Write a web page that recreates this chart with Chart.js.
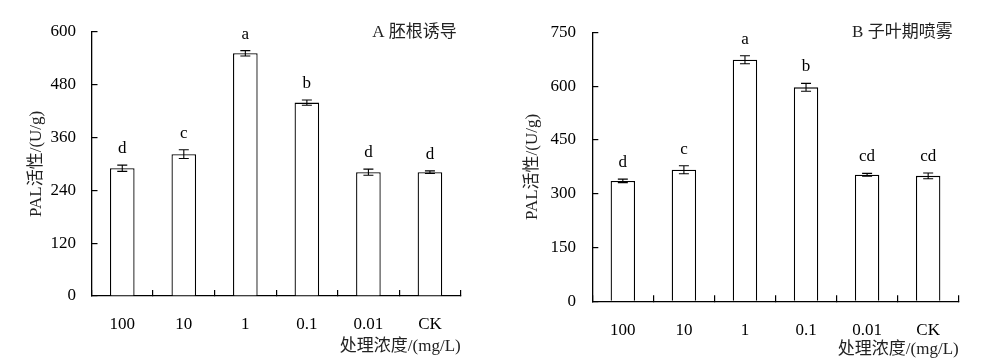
<!DOCTYPE html>
<html><head><meta charset="utf-8">
<script src="https://cdn.jsdelivr.net/npm/chart.js@4/dist/chart.umd.min.js"></script>
<style>
html,body{margin:0;padding:0;background:#fff;}
body{width:1008px;height:364px;overflow:hidden;position:relative;}
.p{position:absolute;top:0;height:364px;}
#wa{left:0;width:500px;}
#wb{left:500px;width:508px;}
</style></head><body>
<div class="p" id="wa"><canvas id="ca"></canvas></div>
<div class="p" id="wb"><canvas id="cb"></canvas></div>
<script>
const categories = ['100', '10', '1', '0.1', '0.01', 'CK'];
const valuesA = [290, 322, 551, 439, 281, 281];
const errorsA = [7, 10, 6, 6, 7, 3];
const lettersA = ['d', 'c', 'a', 'b', 'd', 'd'];
const valuesB = [336, 367, 674, 597, 353, 350];
const errorsB = [5, 11, 11, 11, 4, 8];
const lettersB = ['d', 'c', 'a', 'b', 'cd', 'cd'];
const ticksA = [0, 120, 240, 360, 480, 600];
const ticksB = [0, 150, 300, 450, 600, 750];
const panelTitleA = 'A 胚根诱导';
const panelTitleB = 'B 子叶期喷雾';
const yTitle = 'PAL活性/(U/g)';
const xTitle = '处理浓度/(mg/L)';

const FONT = "'Liberation Serif','Noto Sans CJK SC',serif";

const decor = {
  id: 'decor',
  afterDatasetsDraw(chart, args, opts) {
    const ctx = chart.ctx;
    const xs = chart.scales.x, ys = chart.scales.y;
    const ds = chart.data.datasets[0];
    ctx.save();
    ctx.strokeStyle = '#000';
    ctx.lineWidth = 1.1;
    ctx.fillStyle = '#000';
    ctx.font = '17px ' + FONT;
    ctx.textAlign = 'center';
    ctx.textBaseline = 'alphabetic';
    ds.data.forEach((v, i) => {
      const e = opts.errors[i];
      const x = xs.getPixelForValue(i);
      const yt = ys.getPixelForValue(v + e);
      const yb = ys.getPixelForValue(v - e);
      ctx.beginPath();
      ctx.moveTo(x, yt); ctx.lineTo(x, yb);
      ctx.moveTo(x - 5, yt); ctx.lineTo(x + 5, yt);
      ctx.moveTo(x - 5, yb); ctx.lineTo(x + 5, yb);
      ctx.stroke();
      ctx.fillText(opts.letters[i], x, yt - 12);
    });
    ctx.textAlign = 'right';
    ctx.textBaseline = 'middle';
    ctx.fillStyle = '#222';
    ctx.fillText(opts.title, chart.chartArea.right - opts.titleInset, 33);
    ctx.restore();
  }
};

function makeChart(id, values, errors, letters, ticks, title, geo) {
  const last = ticks[ticks.length - 1];
  return new Chart(document.getElementById(id), {
    type: 'bar',
    data: {
      labels: categories,
      datasets: [{
        data: values,
        backgroundColor: '#fff',
        borderColor: '#000',
        borderWidth: 1.3,
        barPercentage: 0.4,
        categoryPercentage: 1
      }]
    },
    plugins: [decor],
    options: {
      responsive: true,
      maintainAspectRatio: false,
      animation: false,
      devicePixelRatio: 1,
      layout: { padding: { left: 0, top: geo.top, right: geo.right, bottom: 0 } },
      plugins: {
        legend: { display: false },
        tooltip: { enabled: false },
        decor: { errors: errors, letters: letters, title: title, titleInset: geo.titleInset }
      },
      scales: {
        x: {
          grid: { display: true, drawOnChartArea: false, drawTicks: true, tickLength: -6, color: '#000', lineWidth: 1.2, offset: true },
          border: { display: true, color: '#000', width: 1.3 },
          ticks: { color: '#000', font: { family: FONT, size: 17 }, padding: geo.xPad, maxRotation: 0 },
          title: { display: true, text: xTitle, align: 'end', color: '#222', font: { family: FONT, size: 17 }, padding: { top: 0, bottom: geo.xTitlePad } },
          afterFit(s) { s.height = geo.xHeight; }
        },
        y: {
          min: 0, max: last,
          ticks: { stepSize: ticks[1] - ticks[0], color: '#000', font: { family: FONT, size: 17 }, padding: geo.yPad },
          grid: { display: true, drawOnChartArea: false, drawTicks: true, tickLength: -6, color: '#000', lineWidth: 1.2 },
          border: { display: true, color: '#000', width: 1.3 },
          title: { display: true, text: yTitle, color: '#222', font: { family: FONT, size: 17 }, padding: { top: geo.yTitlePad, bottom: 0 } },
          afterFit(s) { s.width = geo.left; }
        }
      }
    }
  });
}

makeChart('ca', valuesA, errorsA, lettersA, ticksA, panelTitleA,
  { top: 30, right: 500 - 460.7, left: 91.5, xHeight: 364 - 296, xPad: 24, yPad: 21.5, yTitlePad: 26.5, xTitlePad: 7, titleInset: 4 });
makeChart('cb', valuesB, errorsB, lettersB, ticksB, panelTitleB,
  { top: 29.3, right: 508 - 458.7, left: 92.3, xHeight: 364 - 301.3, xPad: 25, yPad: 22.3, yTitlePad: 22.8, xTitlePad: 3.8, titleInset: 6 });
</script>
</body></html>
